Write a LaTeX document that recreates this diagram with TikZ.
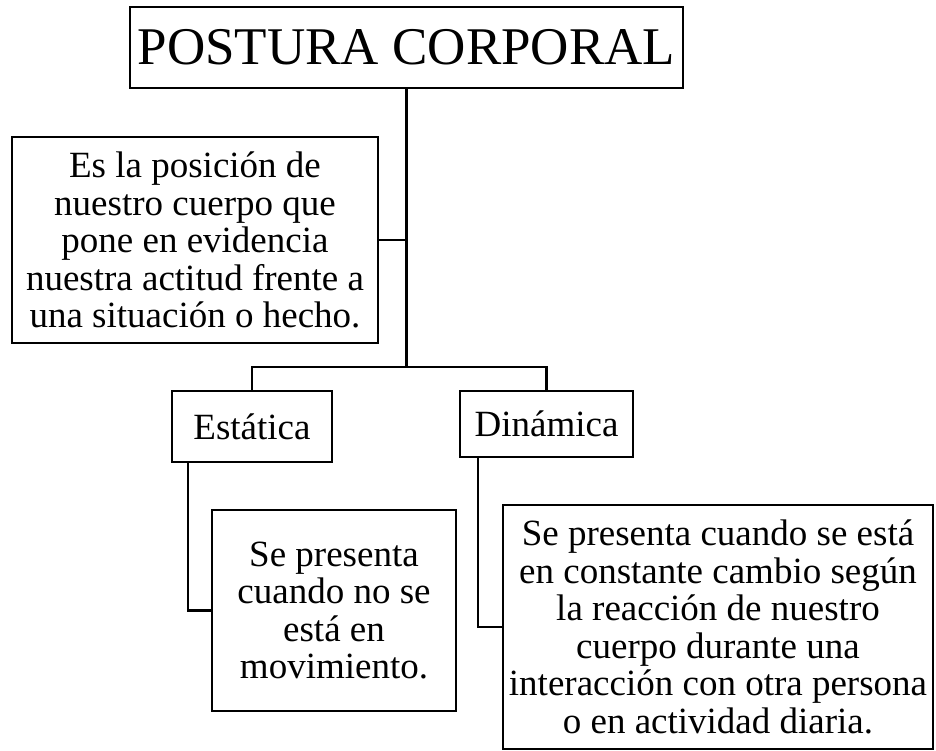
\documentclass[tikz,border=0pt]{standalone}
\usepackage{fontspec}
\setmainfont{Liberation Serif}
\begin{document}
\begin{tikzpicture}[x=1pt,y=-1pt,
  box/.style={draw=black,line width=2pt,inner sep=0pt,align=center,
    font=\fontsize{37}{37.5}\selectfont},
  link/.style={draw=black,line width=2.6pt}]
\useasboundingbox (0,0) rectangle (936,751);
\node[box,minimum width=553pt,minimum height=81pt,font=\fontsize{53}{60}\selectfont] (title) at (406.5,47.5) {POSTURA CORPORAL};
\node[box,minimum width=366pt,minimum height=206pt] (desc) at (195,240)
  {Es la posición de\\nuestro cuerpo que\\pone en evidencia\\nuestra actitud frente a\\una situación o hecho.};
\node[box,minimum width=160pt,minimum height=71pt] (est) at (252,426.5) {Estática};
\node[box,minimum width=173pt,minimum height=66pt] (din) at (546.5,424) {Dinámica};
\node[box,minimum width=244pt,minimum height=201pt] (estd) at (334,610.5)
  {Se presenta\\cuando no se\\está en\\movimiento.};
\node[box,minimum width=430pt,minimum height=244pt] (dind) at (718,627)
  {Se presenta cuando se está\\en constante cambio según\\la reacción de nuestro\\cuerpo durante una\\interacción con otra persona\\o en actividad diaria.};
\coordinate (hub) at (406.5,367);
\draw[link] (title.south) -- (hub);
\draw[link] (desc.east) -- (desc.east -| hub);
\draw[link] (est.north) |- (hub) -| (din.north);
\draw[link] ([xshift=-64pt]est.south) |- (estd.west);
\draw[link] ([xshift=-68.5pt]din.south) |- (dind.west);
\end{tikzpicture}
\end{document}
